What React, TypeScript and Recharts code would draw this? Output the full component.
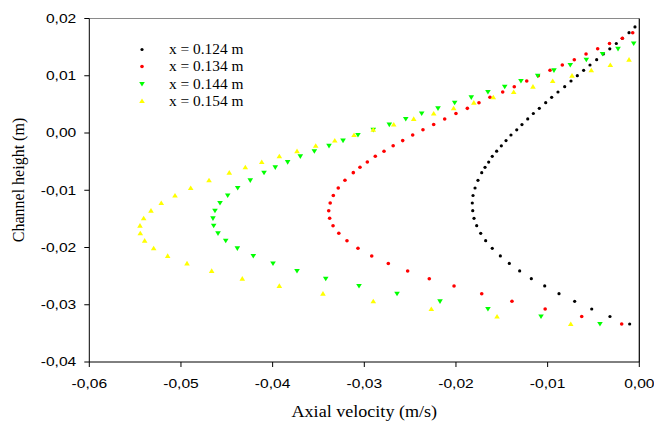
import React from 'react';
import { ScatterChart, Scatter, XAxis, YAxis, ReferenceLine, Legend } from 'recharts';

// Channel height (m) of every measurement level, top to bottom
const channelHeight = [
  0.01852, 0.01752, 0.01654, 0.01563, 0.01471, 0.0138, 0.0128, 0.01188,
  0.01095, 0.01001, 0.00908, 0.00809, 0.00716, 0.00624, 0.00529, 0.00431,
  0.00341, 0.00245, 0.00148, 0.00056, -0.00035, -0.00133, -0.00224, -0.00318,
  -0.00407, -0.00507, -0.00599, -0.00693, -0.00826, -0.00961, -0.01092, -0.01223,
  -0.01357, -0.0149, -0.01619, -0.01752, -0.01881, -0.02014, -0.02148, -0.02279,
  -0.0241, -0.02545, -0.02672, -0.02807, -0.0294, -0.03074, -0.03205, -0.03336,
];

// Axial velocity (m/s) at each level; null where no value was recorded
const velocityAt0124 = [
  -0.00047, -0.00112, -0.00185, -0.00251, -0.00322, -0.00393, -0.00465, -0.00538,
  -0.00607, -0.00676, -0.00745, -0.00814, -0.00887, -0.00956, -0.01021, -0.01091,
  -0.01156, -0.01217, -0.0128, -0.01337, -0.014, -0.01454, -0.01505, -0.01556,
  -0.01604, -0.01643, -0.01683, -0.01719, -0.0176, -0.01792, -0.01814, -0.01822,
  -0.01817, -0.01803, -0.01774, -0.0173, -0.01676, -0.01604, -0.01516, -0.01418,
  -0.01305, -0.01178, -0.01032, -0.00876, -0.00705, -0.00519, -0.0032, -0.00105,
];

const velocityAt0134 = [
  null, -0.00072, -0.00185, -0.00325, -0.00454, -0.00581, -0.00709, -0.0084,
  -0.00974, -0.01102, -0.01228, -0.01364, -0.0149, -0.01629, -0.01749, -0.01876,
  -0.02, -0.02123, -0.02243, -0.0236, -0.02472, -0.02581, -0.02685, -0.02785,
  -0.0288, -0.02967, -0.03047, -0.0312, -0.03211, -0.03284, -0.03338, -0.03372,
  -0.03388, -0.03378, -0.03341, -0.03278, -0.03189, -0.03069, -0.02919, -0.02738,
  -0.02527, -0.02291, -0.02021, -0.01719, -0.01389, -0.01027, -0.00628, -0.00192,
];

const velocityAt0144 = [
  null, null, null, -0.00061, -0.00232, -0.00401, -0.00578, -0.00753,
  -0.00931, -0.01108, -0.01291, -0.01468, -0.01651, -0.01833, -0.02014, -0.02196,
  -0.02374, -0.02548, -0.02727, -0.02902, -0.03069, -0.03232, -0.03385, -0.03545,
  -0.03698, -0.03836, -0.03971, -0.04094, -0.04244, -0.04381, -0.0449, -0.04574,
  -0.04629, -0.04651, -0.04643, -0.04596, -0.04512, -0.04385, -0.04211, -0.03996,
  -0.03734, -0.03421, -0.03058, -0.02643, -0.02174, -0.01651, -0.01072, -0.00429,
];

const velocityAt0154 = [
  null, null, null, null, null, null, -0.00112, -0.00316,
  -0.00524, -0.00734, -0.00945, -0.0116, -0.0137, -0.01593, -0.01805, -0.02025,
  -0.02243, -0.02461, -0.02679, -0.02902, -0.03112, -0.03322, -0.0353, -0.03734,
  -0.03927, -0.04119, -0.04298, -0.04473, -0.04694, -0.04894, -0.05065, -0.05215,
  -0.05327, -0.05407, -0.05447, -0.05444, -0.05396, -0.05298, -0.05145, -0.04934,
  -0.04665, -0.04331, -0.03927, -0.03451, -0.02902, -0.02269, -0.01552, -0.00748,
];

const seriesNames = ['x = 0.124 m', 'x = 0.134 m', 'x = 0.144 m', 'x = 0.154 m'];
const seriesColors = ['#000000', '#ff0000', '#00ff00', '#ffff00'];
const seriesMarkers = ['dot', 'dot', 'triangleDown', 'triangleUp'];
const seriesVelocities = [velocityAt0124, velocityAt0134, velocityAt0144, velocityAt0154];

const xTicks = [-0.06, -0.05, -0.04, -0.03, -0.02, -0.01, 0];
const yTicks = [-0.04, -0.03, -0.02, -0.01, 0, 0.01, 0.02];

type Point = { velocity: number; height: number };

const toPoints = (vel: (number | null)[]): Point[] =>
  channelHeight
    .map((h, i) => ({ velocity: vel[i] as number, height: h }))
    .filter((p) => p.velocity !== null && p.velocity !== undefined);

const formatTick = (v: number) => {
  const s = Math.abs(v).toFixed(2).replace('.', ',');
  return (v < -1e-9 ? '-' : '') + s;
};

const SANS = '"Liberation Sans", Arial, sans-serif';
const SERIF = '"Liberation Serif", "Times New Roman", serif';

function Marker({ kind, cx, cy, color }: { kind: string; cx: number; cy: number; color: string }) {
  if (kind === 'triangleDown') {
    return (
      <polygon
        points={`${cx - 2.8},${cy - 2} ${cx + 2.8},${cy - 2} ${cx},${cy + 2.6}`}
        fill={color}
      />
    );
  }
  if (kind === 'triangleUp') {
    return (
      <polygon
        points={`${cx - 2.8},${cy + 2} ${cx + 2.8},${cy + 2} ${cx},${cy - 2.6}`}
        fill={color}
      />
    );
  }
  return <circle cx={cx} cy={cy} r={color === '#000000' ? 1.6 : 1.8} fill={color} />;
}

const XTick = (props: any) => {
  const { x, y, payload } = props;
  return (
    <g transform={`translate(${x},${y}) scale(1.3,1)`}>
      <text x={0} y={0} dy="0.355em" textAnchor="middle" fontSize={12} fontFamily={SANS} fill="#000">
        {formatTick(payload.value)}
      </text>
    </g>
  );
};

const YTick = (props: any) => {
  const { x, y, payload } = props;
  return (
    <g transform={`translate(${x},${y}) scale(1.3,1)`}>
      <text x={0} y={0} dy="0.355em" textAnchor="end" fontSize={12} fontFamily={SANS} fill="#000">
        {formatTick(payload.value)}
      </text>
    </g>
  );
};

const XTitle = (props: any) => {
  const vb = props.viewBox || { x: 89.3, width: 550 };
  const cx = vb.x + vb.width / 2;
  return (
    <text
      transform={`translate(${cx},411.5) scale(1.13,1)`}
      textAnchor="middle"
      dy="0.35em"
      fontSize={16}
      fontFamily={SERIF}
      fill="#000"
    >
      Axial velocity (m/s)
    </text>
  );
};

const YTitle = () => (
  <text
    transform="translate(18,180) rotate(-90)"
    textAnchor="middle"
    dy="0.35em"
    fontSize={16}
    fontFamily={SERIF}
    fill="#000"
  >
    Channel height (m)
  </text>
);

const legendRows = [49.5, 66.5, 84, 101];

const LegendBox = () => (
  <svg width={654} height={424} style={{ position: 'absolute', left: 0, top: 0 }}>
    {seriesNames.map((name, i) => (
      <g key={name}>
        <Marker kind={seriesMarkers[i]} cx={142} cy={legendRows[i]} color={seriesColors[i]} />
        <text
          transform={`translate(169,${legendRows[i]}) scale(1.1,1)`}
          dy="0.35em"
          fontSize={14}
          fontFamily={SERIF}
          fill="#000"
        >
          {name}
        </text>
      </g>
    ))}
  </svg>
);

export default function App() {
  return (
    <div style={{ position: 'absolute', left: 0, top: 0, width: 654, height: 424, background: '#fff' }}>
      <ScatterChart width={654} height={424} margin={{ top: 18.5, right: 14.7, bottom: 0, left: 0 }}>
        <XAxis
          type="number"
          dataKey="velocity"
          domain={[-0.06, 0]}
          ticks={xTicks}
          allowDataOverflow
          height={62}
          tickSize={5}
          tickMargin={17}
          axisLine={{ stroke: '#000' }}
          tickLine={{ stroke: '#000' }}
          tick={<XTick />}
          label={{ content: <XTitle /> }}
        />
        <YAxis
          type="number"
          dataKey="height"
          domain={[-0.04, 0.02]}
          ticks={yTicks}
          allowDataOverflow
          width={89.3}
          tickSize={5}
          tickMargin={8}
          axisLine={{ stroke: '#000' }}
          tickLine={{ stroke: '#000' }}
          tick={<YTick />}
          label={{ content: <YTitle /> }}
        />
        <ReferenceLine y={0.02} stroke="#8a8a8a" />
        <ReferenceLine x={0} stroke="#000" strokeWidth={1.2} />
        {seriesNames.map((name, i) => (
          <Scatter
            key={name}
            name={name}
            data={toPoints(seriesVelocities[i])}
            fill={seriesColors[i]}
            isAnimationActive={false}
            shape={(p: any) => (
              <Marker kind={seriesMarkers[i]} cx={p.cx} cy={p.cy} color={seriesColors[i]} />
            )}
          />
        ))}
        <Legend
          layout="vertical"
          align="center"
          verticalAlign="middle"
          wrapperStyle={{ left: 0, top: 0, width: 654, height: 424, pointerEvents: 'none' }}
          content={() => <LegendBox />}
        />
      </ScatterChart>
    </div>
  );
}
